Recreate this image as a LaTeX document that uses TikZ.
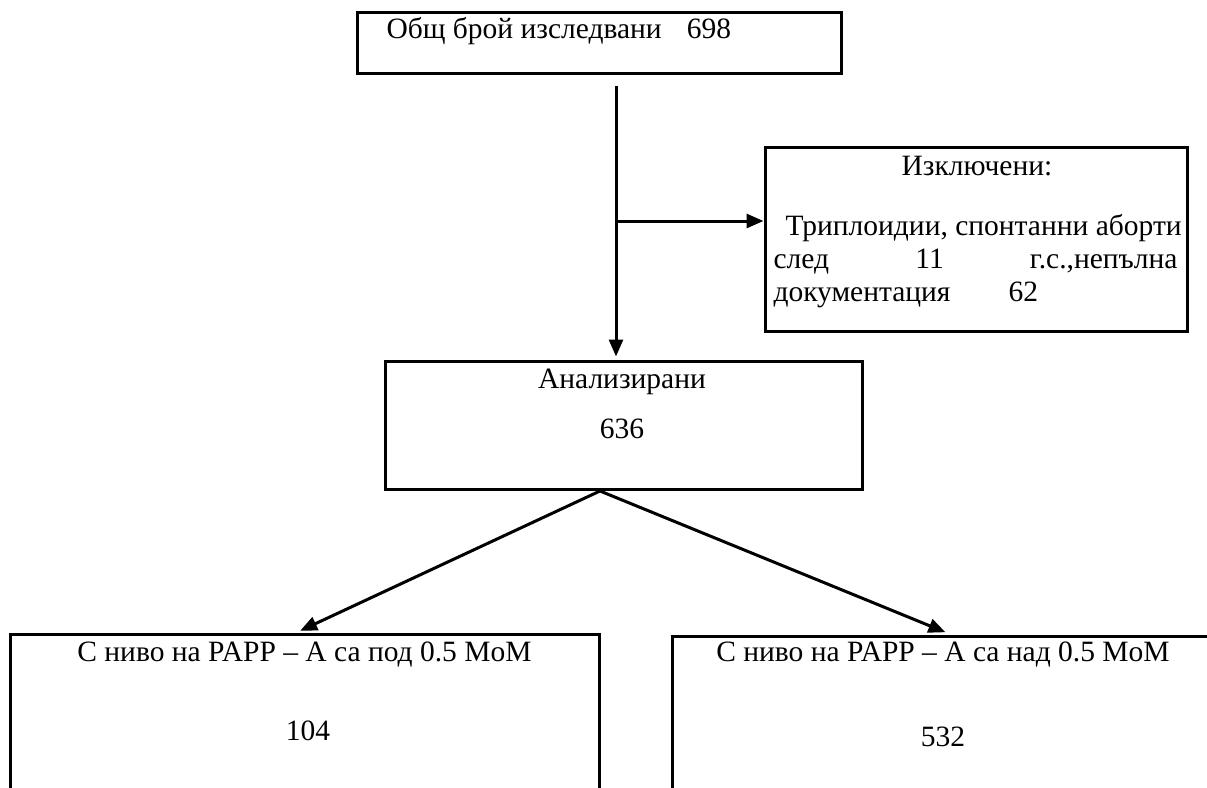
\documentclass[tikz,border=0pt]{standalone}
\usepackage{fontspec}
\setmainfont{Liberation Serif}
\usetikzlibrary{arrows.meta}

\begin{document}
\begin{tikzpicture}[x=1pt,y=-1pt,line width=3pt,
  >={Triangle[length=17pt,width=14pt]},
  box/.style={draw,rectangle,inner sep=0pt},
  txt/.style={anchor=base,inner sep=0pt,font=\fontsize{29.5}{33}\selectfont}]
\useasboundingbox (0,0) rectangle (1207,787);
\clip (0,0) rectangle (1207,787);

\node[box,minimum width=484,minimum height=61] (n_total) at (599,42.5) {};
\node[txt,anchor=base west] (t_total) at (385,38) {Общ брой изследвани\hspace{25pt}698};

\node[box,minimum width=422,minimum height=184] (n_excl) at (976,239) {};
\node[txt] (t_excl) at (977,175) {Изключени:};
\node[txt,anchor=base west] (t_why1) at (784,235) {Триплоидии, спонтанни аборти};
\node[txt,anchor=base west] (t_why2) at (772,268) {\makebox[404pt][s]{след 11 г.с.,непълна}};
\node[txt,anchor=base west] (t_why3) at (772,301) {документация\hspace{58pt}62};

\node[box,minimum width=477,minimum height=128] (n_anal) at (623.5,425) {};
\node[txt] (t_anal) at (622,388) {Анализирани};
\node[txt] (t_analnum) at (622,438) {636};

\node[box,minimum width=589,minimum height=200] (n_low) at (304.5,734) {};
\node[txt] (t_low) at (304.5,661) {С ниво на PAPP – A са под 0.5 MoM};
\node[txt] (t_lownum) at (308,740) {104};

\node[box,minimum width=542,minimum height=200] (n_high) at (943,736) {};
\node[txt] (t_high) at (943,661) {С ниво на PAPP – A са над 0.5 MoM};
\node[txt] (t_highnum) at (943,746) {532};

\coordinate (c_drop) at (616,86);
\coordinate (c_side) at (616,221);
\coordinate (c_split) at (600,491);

\path[->]
(c_drop) edge [shorten >=3pt] (c_drop |- n_anal.north)
(c_side) edge (c_side -| n_excl.west)
(c_split) edge [shorten >=4pt] ([xshift=-8pt]n_low.north)
(c_split) edge [shorten >=6pt] ([xshift=8pt]n_high.north)
; %end path
\end{tikzpicture}
\end{document}
